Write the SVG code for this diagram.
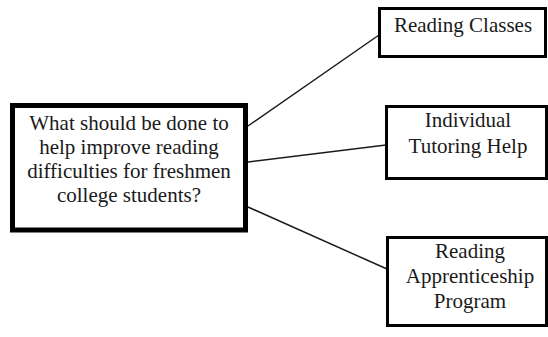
<svg xmlns="http://www.w3.org/2000/svg" width="548" height="337" viewBox="0 0 548 337">
<style>
.box{fill:#fff;stroke:#000;stroke-width:3}
.main{fill:#fff;stroke:#000;stroke-width:5}
.t{font-family:"Liberation Serif","Times New Roman",serif;font-size:21px;fill:#1a1a1a;text-anchor:middle}
.c{stroke:#1a1a1a;stroke-width:1.5;fill:none}
</style>
<rect width="548" height="337" fill="#fff"/>
<g id="connectors">
<line class="c" x1="248" y1="126" x2="379" y2="35"/>
<line class="c" x1="248" y1="162" x2="386" y2="145"/>
<line class="c" x1="248" y1="207" x2="387" y2="269"/>
</g>
<g id="question">
<rect class="main" x="12.5" y="105.5" width="233" height="124.5"/>
<text class="t" x="129" y="130">What should be done to</text>
<text class="t" x="129" y="154">help improve reading</text>
<text class="t" x="129" y="178">difficulties for freshmen</text>
<text class="t" x="129" y="202">college students?</text>
</g>
<g id="reading-classes">
<rect class="box" x="379.5" y="8.5" width="166" height="48"/>
<text class="t" x="463" y="32">Reading Classes</text>
</g>
<g id="tutoring">
<rect class="box" x="386.5" y="106.5" width="160" height="72"/>
<text class="t" x="468" y="127">Individual</text>
<text class="t" x="468" y="153">Tutoring Help</text>
</g>
<g id="apprenticeship">
<rect class="box" x="387.5" y="237.5" width="159" height="88"/>
<text class="t" x="470" y="258">Reading</text>
<text class="t" x="470" y="283">Apprenticeship</text>
<text class="t" x="470" y="308">Program</text>
</g>
</svg>
